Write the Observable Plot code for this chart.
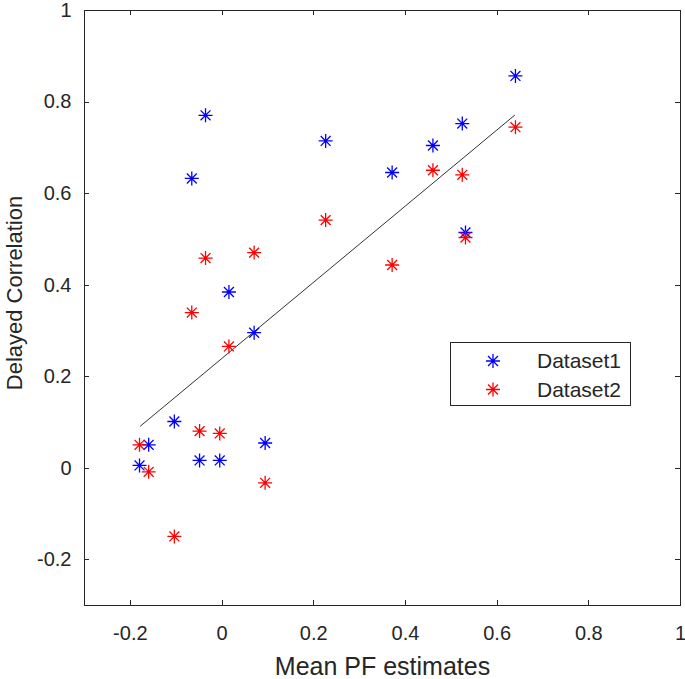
<!DOCTYPE html>
<html><head><meta charset="utf-8">
<script src="https://cdn.jsdelivr.net/npm/d3@7"></script>
<script src="https://cdn.jsdelivr.net/npm/@observablehq/plot@0.6"></script>
<style>
body{margin:0;background:#fff}
#chart{position:relative;width:685px;height:679px}
</style>
</head><body><div id="chart"></div>
<script>
// ---- data ----
const meanPF = [-0.180, -0.160, -0.104, -0.066, -0.049, -0.036, -0.005, 0.015, 0.070, 0.094, 0.226, 0.371, 0.460, 0.524, 0.531, 0.640];
const dataset1 = [0.006, 0.051, 0.102, 0.633, 0.017, 0.771, 0.017, 0.385, 0.296, 0.055, 0.715, 0.646, 0.705, 0.753, 0.515, 0.857];
const dataset2 = [0.051, -0.008, -0.149, 0.340, 0.081, 0.459, 0.076, 0.266, 0.471, -0.032, 0.542, 0.444, 0.651, 0.641, 0.504, 0.745];
const fitX = [-0.178, 0.638];
const fitY = [0.092, 0.771];
const xTicks = [-0.2, 0, 0.2, 0.4, 0.6, 0.8, 1];
const yTicks = [-0.2, 0, 0.2, 0.4, 0.6, 0.8, 1];
const seriesNames = ["Dataset1", "Dataset2"];
const seriesColors = ["#0000ff", "#ff0000"];
const xLabel = "Mean PF estimates";
const yLabel = "Delayed Correlation";

// ---- build tables ----
const pts = [];
[dataset1, dataset2].forEach((ys, s) => ys.forEach((v, i) => pts.push({x: meanPF[i], y: v, s: seriesNames[s]})));
const fit = fitX.map((x, i) => ({x, y: fitY[i]}));

// MATLAB-style 8-arm asterisk
const asterisk8 = {
  draw(ctx, size) {
    const r = Math.sqrt(size / Math.PI);
    const d = r * Math.SQRT1_2;
    ctx.moveTo(0, -r); ctx.lineTo(0, r);
    ctx.moveTo(-r, 0); ctx.lineTo(r, 0);
    ctx.moveTo(-d, -d); ctx.lineTo(d, d);
    ctx.moveTo(-d, d); ctx.lineTo(d, -d);
  }
};

const fmt = d => String(Math.round(d * 10) / 10);
const ink = "#262626";
const font = "'Liberation Sans', Arial, Helvetica, sans-serif";

const W = 685, H = 679, mL = 84, mR = 5, mT = 10, mB = 74;
const T = 5; // inward tick length

const chart = Plot.plot({
  width: W, height: H,
  marginLeft: mL, marginRight: mR, marginTop: mT, marginBottom: mB,
  style: {fontFamily: font, fontSize: "20px", color: ink, background: "#fff"},
  x: {domain: [-0.3, 1]},
  y: {domain: [-0.3, 1]},
  color: {domain: seriesNames, range: seriesColors},
  marks: [
    Plot.frame({stroke: ink, strokeWidth: 1}),
    Plot.axisX(xTicks, {anchor: "bottom", tickSize: 0, tickPadding: 20, tickFormat: fmt, label: null, fontSize: 20}),
    Plot.axisY(yTicks, {anchor: "left", tickSize: 0, tickPadding: 13, tickFormat: fmt, label: null, fontSize: 20}),
    Plot.text([xLabel], {frameAnchor: "bottom", dy: 61, textAnchor: "middle", lineAnchor: "middle", fontSize: 25, fill: ink}),
    Plot.text([yLabel], {frameAnchor: "left", dx: -70, dy: -15, rotate: -90, textAnchor: "middle", lineAnchor: "middle", fontSize: 22, fill: ink}),
    Plot.line(fit, {x: "x", y: "y", stroke: "#333", strokeWidth: 1}),
    Plot.dot(pts, {x: "x", y: "y", stroke: "s", symbol: asterisk8, r: 7, strokeWidth: 1.3})
  ]
});
document.getElementById("chart").appendChild(chart);

const svg = d3.select(chart);

// ---- inward ticks on all four sides, placed with Plot's own scales ----
const sx = chart.scale("x"), sy = chart.scale("y");
const [x0, x1] = sx.range, [y0, y1] = sy.range; // y0 bottom, y1 top
const tg = svg.append("g").attr("stroke", ink).attr("stroke-width", 1);
xTicks.forEach(v => {
  const px = Math.round(sx.apply(v)) + 0.5;
  tg.append("line").attr("x1", px).attr("x2", px).attr("y1", y0).attr("y2", y0 - T);
  tg.append("line").attr("x1", px).attr("x2", px).attr("y1", y1).attr("y2", y1 + T);
});
yTicks.forEach(v => {
  const py = Math.round(sy.apply(v)) + 0.5;
  tg.append("line").attr("y1", py).attr("y2", py).attr("x1", x0).attr("x2", x0 + T);
  tg.append("line").attr("y1", py).attr("y2", py).attr("x1", x1).attr("x2", x1 - T);
});

// ---- legend (inside the axes, like MATLAB) ----
const lg = svg.append("g").attr("font-family", font).attr("font-size", 21).attr("fill", ink).attr("text-anchor", "start");
lg.append("rect").attr("x", 450.5).attr("y", 342.5).attr("width", 180).attr("height", 63)
  .attr("fill", "#fff").attr("stroke", ink).attr("stroke-width", 1);
seriesNames.forEach((name, i) => {
  const cy = 361 + i * 28.5;
  lg.append("path").attr("transform", `translate(493,${cy})`)
    .attr("d", d3.symbol(asterisk8, Math.PI * 49)())
    .attr("fill", "none").attr("stroke", seriesColors[i]).attr("stroke-width", 1.3);
  lg.append("text").attr("x", 537).attr("y", cy).attr("dy", "0.35em").attr("text-anchor", "start").text(name);
});
</script>
</body></html>
